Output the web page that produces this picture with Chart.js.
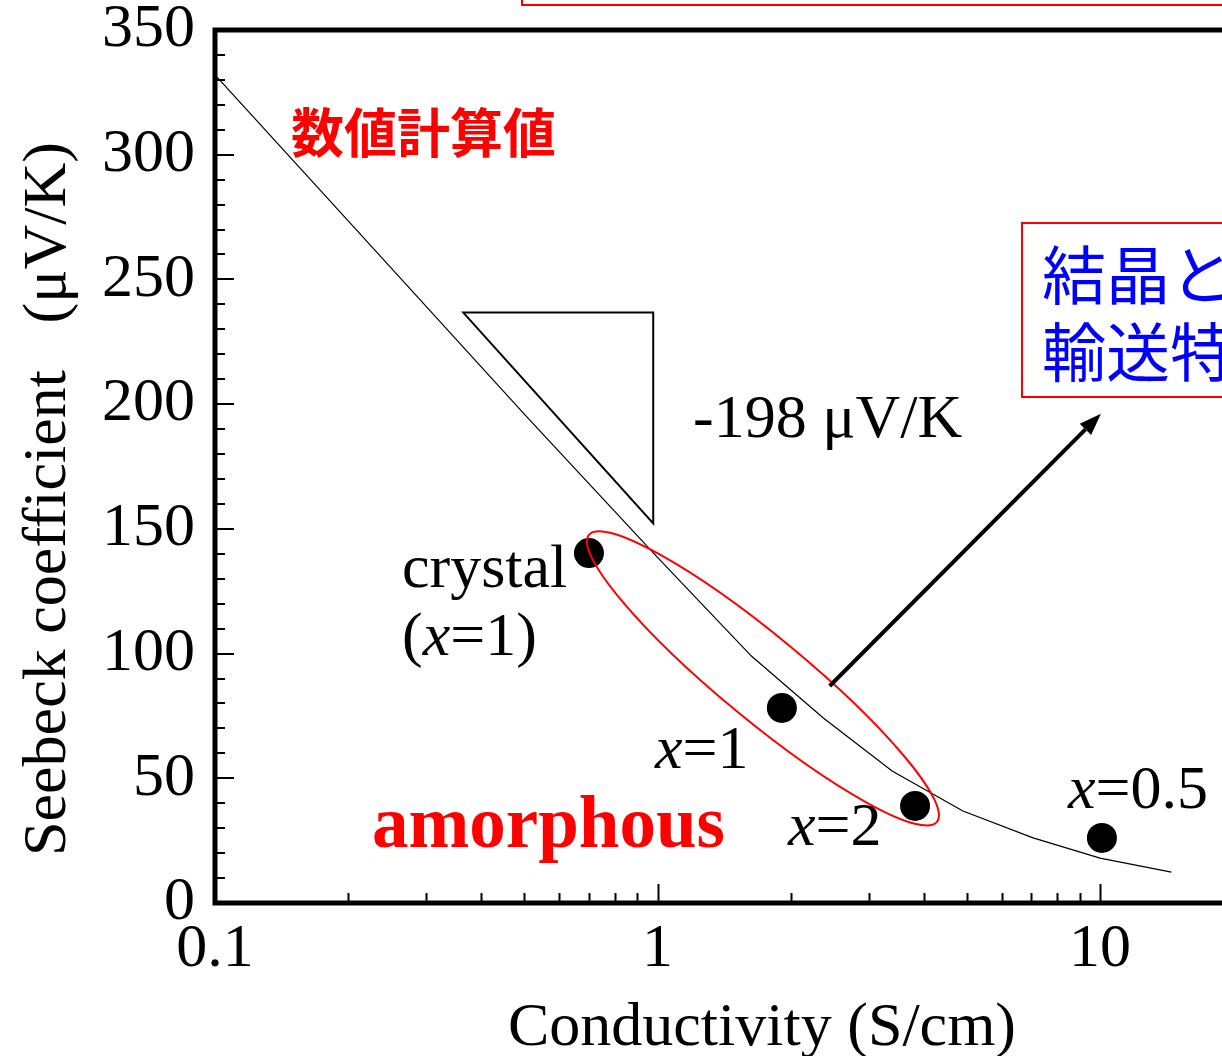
<!DOCTYPE html>
<html>
<head>
<meta charset="utf-8">
<script src="https://cdn.jsdelivr.net/npm/chart.js@4.4.0/dist/chart.umd.min.js"></script>
<style>
  html, body { margin: 0; padding: 0; background: #fff; overflow: hidden; }
  #wrap { width: 1222px; height: 1056px; overflow: hidden; }
  canvas { display: block; }
</style>
</head>
<body>
<div id="wrap"><canvas id="chart" width="1560" height="1056"></canvas></div>
<script>
// calculated curve: conductivity (S/cm) vs Seebeck coefficient (uV/K)
const calcSigma   = [0.1, 0.2, 0.5, 1, 1.63, 2.37, 3.39, 4.9, 7.06, 10, 14.5];
const calcSeebeck = [332, 273.5, 196, 138.6, 99, 74.2, 52.9, 36.9, 26.1, 18, 12.4];

// measured samples
const sampleNames   = ["crystal (x=1)", "x=1", "x=2", "x=0.5"];
const sampleSigma   = [0.70, 1.91, 3.82, 10.1];
const sampleSeebeck = [140.3, 78.2, 38.9, 26.1];

// axes
const xDecades   = [0.1, 1, 10, 100];
const xLabelled  = [0.1, 1, 10];
const yMin = 0, yMax = 350, yMinorStep = 10, yMajorStep = 50;

// slope triangle, arrow and the amorphous ellipse (data units)
const slopeTriangle = [[0.364, 236.7], [0.978, 236.7], [0.978, 152.2]];
const arrowFrom = [2.45, 87.0];
const arrowTo   = [10.05, 196.1];
const ellipseTips = [[0.70, 147.6], [4.28, 32.5]];

const SERIF = '"Liberation Serif", "Times New Roman", serif';
const CJK = '"Noto Sans CJK JP", sans-serif';

// tick values: 1..9 in each decade plus the last power of ten
const xTickValues = [];
xDecades.slice(0, -1).forEach(d => {
  for (let m = 1; m <= 9; m++) xTickValues.push(m * d);
});
xTickValues.push(xDecades[xDecades.length - 1]);

const yTickValues = [];
for (let v = yMin; v <= yMax; v += yMinorStep) yTickValues.push(v);

function drawParts(ctx, parts, x, y, size, color) {
  ctx.fillStyle = color;
  ctx.textAlign = 'left';
  ctx.textBaseline = 'alphabetic';
  parts.forEach(p => {
    ctx.font = (p[1] ? 'italic ' : '') + size + 'px ' + SERIF;
    ctx.fillText(p[0], x, y);
    x += ctx.measureText(p[0]).width;
  });
}

const frameAndNotes = {
  id: 'frameAndNotes',
  afterDatasetsDraw(chart) {
    const { ctx, chartArea: a, scales: { x, y } } = chart;
    const px = v => x.getPixelForValue(v);
    const py = v => y.getPixelForValue(v);
    ctx.save();

    // inward ticks
    ctx.strokeStyle = '#000';
    ctx.lineWidth = 2;
    x.ticks.forEach(t => {
      const len = xDecades.includes(t.value) ? 19 : 10;
      const xx = Math.round(px(t.value)) + 0.5;
      ctx.beginPath();
      ctx.moveTo(xx, a.bottom);
      ctx.lineTo(xx, a.bottom - len);
      ctx.stroke();
    });
    y.ticks.forEach(t => {
      const len = t.value % yMajorStep === 0 ? 19 : 10;
      const yy = Math.round(py(t.value));
      ctx.beginPath();
      ctx.moveTo(a.left, yy);
      ctx.lineTo(a.left + len, yy);
      ctx.stroke();
    });

    // plot frame
    ctx.lineWidth = 5;
    ctx.strokeRect(a.left, a.top, a.right - a.left, a.bottom - a.top);

    // slope triangle
    ctx.lineWidth = 2;
    ctx.beginPath();
    slopeTriangle.forEach((p, i) => {
      if (i === 0) ctx.moveTo(px(p[0]), py(p[1]));
      else ctx.lineTo(px(p[0]), py(p[1]));
    });
    ctx.closePath();
    ctx.stroke();

    // ellipse around the amorphous samples
    const e1 = [px(ellipseTips[0][0]), py(ellipseTips[0][1])];
    const e2 = [px(ellipseTips[1][0]), py(ellipseTips[1][1])];
    const ang = Math.atan2(e2[1] - e1[1], e2[0] - e1[0]);
    const semiA = Math.hypot(e2[0] - e1[0], e2[1] - e1[1]) / 2;
    ctx.strokeStyle = '#ff0000';
    ctx.lineWidth = 2;
    ctx.beginPath();
    ctx.ellipse((e1[0] + e2[0]) / 2, (e1[1] + e2[1]) / 2, semiA, 42, ang, 0, Math.PI * 2);
    ctx.stroke();

    // arrow
    const a0 = [px(arrowFrom[0]), py(arrowFrom[1])];
    const a1 = [px(arrowTo[0]), py(arrowTo[1])];
    const aa = Math.atan2(a1[1] - a0[1], a1[0] - a0[0]);
    const head = 22, half = 8;
    ctx.strokeStyle = '#000';
    ctx.fillStyle = '#000';
    ctx.lineWidth = 4;
    ctx.beginPath();
    ctx.moveTo(a0[0], a0[1]);
    ctx.lineTo(a1[0] - head * Math.cos(aa), a1[1] - head * Math.sin(aa));
    ctx.stroke();
    ctx.beginPath();
    ctx.moveTo(a1[0], a1[1]);
    ctx.lineTo(a1[0] - head * Math.cos(aa) + half * Math.sin(aa), a1[1] - head * Math.sin(aa) - half * Math.cos(aa));
    ctx.lineTo(a1[0] - head * Math.cos(aa) - half * Math.sin(aa), a1[1] - head * Math.sin(aa) + half * Math.cos(aa));
    ctx.closePath();
    ctx.fill();

    // axis titles
    ctx.fillStyle = '#000';
    ctx.font = '62px ' + SERIF;
    ctx.textAlign = 'center';
    ctx.textBaseline = 'alphabetic';
    ctx.fillText('Conductivity (S/cm)', 762, 1045);
    ctx.save();
    ctx.translate(65, 499);
    ctx.rotate(-Math.PI / 2);
    ctx.fillText('Seebeck coefficient   (\u03bcV/K)', 0, 0);
    ctx.restore();

    // annotations
    drawParts(ctx, [['-198 \u03bcV/K', false]], 693, 437, 62, '#000');
    drawParts(ctx, [['crystal', false]], 402, 587, 62, '#000');
    drawParts(ctx, [['(', false], ['x', true], ['=1)', false]], 402, 655, 62, '#000');
    drawParts(ctx, [['x', true], ['=1', false]], 655, 768, 62, '#000');
    drawParts(ctx, [['x', true], ['=2', false]], 788, 845, 62, '#000');
    drawParts(ctx, [['x', true], ['=0.5', false]], 1068, 808, 62, '#000');

    ctx.fillStyle = '#ff0000';
    ctx.font = 'bold 73px ' + SERIF;
    ctx.textAlign = 'left';
    ctx.fillText('amorphous', 372, 847);

    ctx.font = 'bold 53px ' + CJK;
    ctx.textBaseline = 'middle';
    ctx.fillText('数値計算値', 291, 133);

    // callout boxes
    ctx.strokeStyle = '#ff0000';
    ctx.lineWidth = 2;
    ctx.strokeRect(522, -60, 1200, 65);
    ctx.strokeRect(1022, 223, 700, 174);
    ctx.fillStyle = '#0000ff';
    ctx.font = '64px ' + CJK;
    ctx.fillText('結晶と', 1042, 275);
    ctx.fillText('輸送特', 1042, 352);

    ctx.restore();
  }
};

new Chart(document.getElementById('chart'), {
  type: 'scatter',
  data: {
    datasets: [
      {
        label: 'calculated',
        data: calcSigma.map((s, i) => ({ x: s, y: calcSeebeck[i] })),
        showLine: true,
        borderColor: '#000',
        borderWidth: 1.2,
        pointRadius: 0,
        fill: false
      },
      {
        label: 'samples',
        data: sampleSigma.map((s, i) => ({ x: s, y: sampleSeebeck[i], name: sampleNames[i] })),
        showLine: false,
        pointRadius: 15,
        pointBackgroundColor: '#000',
        pointBorderWidth: 0
      }
    ]
  },
  options: {
    responsive: false,
    animation: false,
    devicePixelRatio: 1,
    layout: { padding: { top: 30, right: 17.5, left: 0, bottom: 0 } },
    plugins: { legend: { display: false }, tooltip: { enabled: false } },
    scales: {
      x: {
        type: 'logarithmic',
        position: 'bottom',
        min: xDecades[0],
        max: xDecades[xDecades.length - 1],
        grid: { display: false, drawTicks: false },
        border: { display: false },
        afterBuildTicks: s => { s.ticks = xTickValues.map(v => ({ value: v })); },
        afterFit: s => { s.height = 1056 - 903; s.paddingLeft = 0; s.paddingRight = 0; },
        ticks: {
          autoSkip: false,
          maxRotation: 0,
          padding: 19,
          color: '#000',
          font: { family: SERIF, size: 62, lineHeight: 0.9 },
          callback: v => xLabelled.includes(v) ? String(v) : ''
        }
      },
      y: {
        type: 'linear',
        min: yMin,
        max: yMax,
        grid: { display: false, drawTicks: false },
        border: { display: false },
        afterBuildTicks: s => { s.ticks = yTickValues.map(v => ({ value: v })); },
        afterFit: s => { s.width = 215; s.paddingTop = 0; s.paddingBottom = 0; },
        ticks: {
          autoSkip: false,
          padding: 20,
          color: '#000',
          font: { family: SERIF, size: 62, lineHeight: 0.9 },
          callback: v => v % yMajorStep === 0 ? String(v) : ''
        }
      }
    }
  },
  plugins: [frameAndNotes]
});
</script>
</body>
</html>
